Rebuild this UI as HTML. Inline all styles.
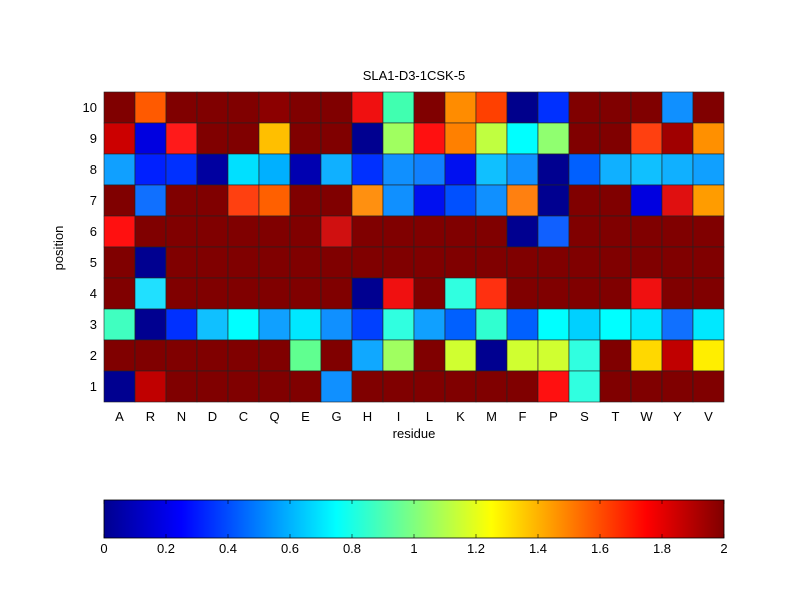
<!DOCTYPE html>
<html><head><meta charset="utf-8"><style>body{margin:0;background:#fff}svg{display:block}text{font-family:"Liberation Sans",sans-serif;font-size:13px;fill:#000}</style></head>
<body>
<svg width="800" height="600" xmlns="http://www.w3.org/2000/svg">
<defs><linearGradient id="jet" x1="0" x2="1" y1="0" y2="0">
<stop offset="0" stop-color="#00008f"/><stop offset="0.125" stop-color="#0000ff"/><stop offset="0.375" stop-color="#00ffff"/><stop offset="0.625" stop-color="#ffff00"/><stop offset="0.875" stop-color="#ff0000"/><stop offset="1" stop-color="#800000"/></linearGradient></defs>
<g id="cells" stroke="#222" stroke-width="0.6"></g>
<text x="414" y="80" text-anchor="middle">SLA1-D3-1CSK-5</text>
<g id="labels"></g>
<text x="414" y="438" text-anchor="middle">residue</text>
<text transform="translate(63,248) rotate(-90)" text-anchor="middle">position</text>
<rect x="104" y="500" width="620" height="38" fill="url(#jet)" stroke="#000" stroke-width="0.8"/>
<g id="cb"></g>
</svg>
<script>
var D="#800000";
var rows=[
[D,"#ff5a00",D,D,D,"#8c0000",D,D,"#f01010","#40ffb0",D,"#ff8c00","#ff4000","#00008c","#0030ff",D,D,D,"#1090ff",D],
["#cc0000","#0000e0","#ff1a1a",D,D,"#ffbf00",D,D,"#000090","#a0ff60","#ff1010","#ff8000","#c0ff40","#00ffff","#90ff70",D,D,"#ff4010","#a00000","#ff9000"],
["#10a0ff","#0020ff","#0030ff","#0000a0","#00e0ff","#00b0ff","#0000b0","#10b0ff","#0030ff","#1090ff","#1080ff","#0010f0","#10c0ff","#1090ff","#000090","#0060ff","#10b0ff","#10c0ff","#10b0ff","#10a0ff"],
[D,"#1070ff",D,D,"#ff4010","#ff6000",D,D,"#ff9010","#1090ff","#0010f0","#0050ff","#1090ff","#ff8010","#000090",D,D,"#0000e0","#e01010","#ff9c00"],
["#ff1010",D,D,D,D,D,D,"#d01010",D,D,D,D,D,"#000090","#1060ff",D,D,D,D,D],
[D,"#000090",D,D,D,D,D,D,D,D,D,D,D,D,D,D,D,D,D,D],
[D,"#20e0ff",D,D,D,D,D,D,"#000090","#f01010",D,"#30ffe0","#ff3010",D,D,D,D,"#f01010",D,D],
["#40ffc0","#000090","#0030ff","#10c0ff","#00ffff","#10a0ff","#00e8ff","#1090ff","#0040ff","#30ffe0","#10a0ff","#0060ff","#30ffd0","#0060ff","#00ffff","#00d0ff","#00ffff","#00e8ff","#1070ff","#00e8ff"],
[D,D,D,D,D,D,"#60ff90",D,"#10a8ff","#a0ff60",D,"#d0ff30","#000090","#d0ff30","#d0ff30","#30ffe0",D,"#ffd800","#c00000","#ffee00"],
["#000090","#c00000",D,D,D,D,D,"#1090ff",D,D,D,D,D,D,"#ff1010","#30ffe0",D,D,D,D]];
var ns="http://www.w3.org/2000/svg",s="";
var x0=104,y0=92,cw=31,ch=31;
rows.forEach(function(r,i){r.forEach(function(c,j){s+='<rect x="'+(x0+j*cw)+'" y="'+(y0+i*ch)+'" width="'+cw+'" height="'+ch+'" fill="'+c+'"/>';});});
document.getElementById('cells').innerHTML=s;
var res="ARNDCQEGHILKMFPSTWYV",l="";
for(var j=0;j<20;j++)l+='<text x="'+(x0+j*cw+15.5)+'" y="421" text-anchor="middle">'+res[j]+'</text>';
for(var i=0;i<10;i++)l+='<text x="97" y="'+(y0+i*ch+20)+'" text-anchor="end">'+(10-i)+'</text>';
document.getElementById('labels').innerHTML=l;
var c="",t=["0","0.2","0.4","0.6","0.8","1","1.2","1.4","1.6","1.8","2"];
for(var k=0;k<=10;k++){var x=104+k*62;c+='<line x1="'+x+'" x2="'+x+'" y1="500" y2="504" stroke="#000" stroke-width="0.6"/><line x1="'+x+'" x2="'+x+'" y1="534" y2="538" stroke="#000" stroke-width="0.6"/><text x="'+x+'" y="553" text-anchor="middle">'+t[k]+'</text>';}
document.getElementById('cb').innerHTML=c;
</script>
</body></html>
